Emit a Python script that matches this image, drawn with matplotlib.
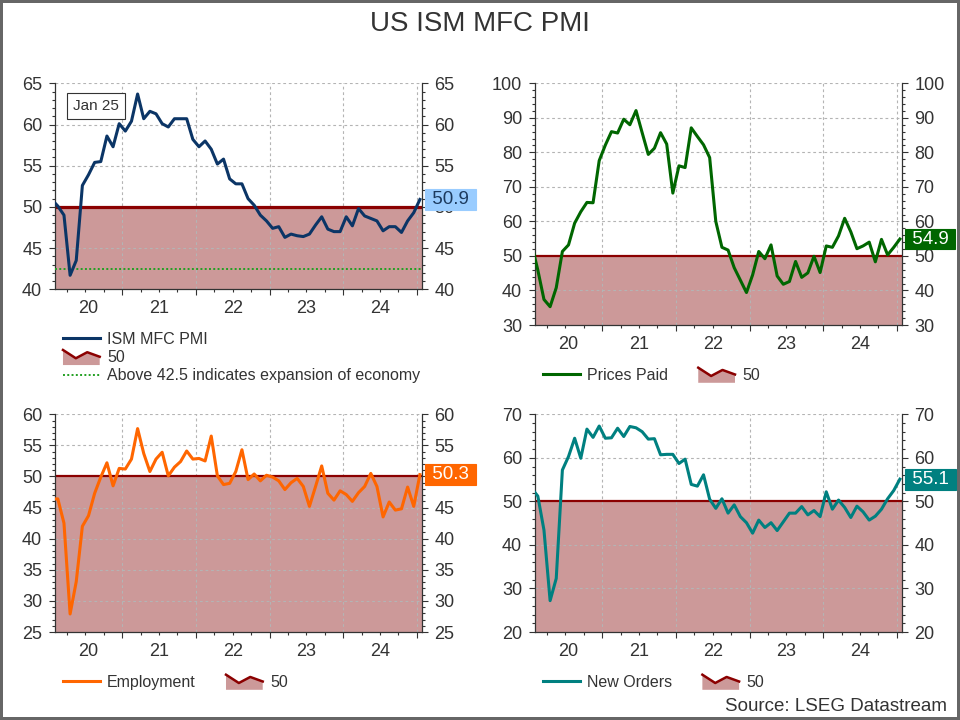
import numpy as np
import matplotlib
matplotlib.use("Agg")
import matplotlib.pyplot as plt
from matplotlib.ticker import MultipleLocator
from matplotlib.legend_handler import HandlerBase
from matplotlib.lines import Line2D
from matplotlib.patches import Polygon

plt.rcParams['font.family'] = ['Liberation Sans', 'DejaVu Sans']

# monthly, Jan 2020 .. Jan 2025
months = np.arange(61)
years = ['20', '21', '22', '23', '24']

pmi = [50.9, 50.1, 49.0, 41.7, 43.5, 52.6, 53.9, 55.4, 55.5, 58.6, 57.3, 60.1,
       59.2, 60.4, 63.7, 60.7, 61.6, 61.3, 60.1, 59.7, 60.7, 60.7, 60.7, 58.2,
       57.3, 58.0, 57.0, 55.2, 55.8, 53.4, 52.8, 52.8, 51.0, 50.2, 49.0, 48.3,
       47.4, 47.6, 46.3, 46.7, 46.5, 46.4, 46.7, 47.8, 48.8, 47.3, 47.0, 47.0,
       48.8, 47.7, 49.8, 48.9, 48.6, 48.3, 47.1, 47.6, 47.6, 46.9, 48.3, 49.3,
       50.9]
prices_paid = [53.3, 45.9, 37.4, 35.3, 40.8, 51.3, 53.2, 59.5, 62.8, 65.5, 65.4, 77.6,
               82.1, 86.0, 85.6, 89.6, 88.0, 92.1, 85.7, 79.4, 81.2, 85.7, 82.4, 68.2,
               76.1, 75.6, 87.1, 84.6, 82.2, 78.5, 60.0, 52.5, 51.7, 46.6, 43.0, 39.4,
               44.5, 51.3, 49.2, 53.2, 44.2, 41.8, 42.6, 48.4, 43.8, 45.1, 49.9, 45.2,
               52.9, 52.5, 55.8, 60.9, 57.0, 52.1, 52.9, 54.0, 48.3, 54.8, 50.3, 52.5,
               54.9]
employment = [46.4, 46.4, 42.5, 27.9, 33.1, 42.0, 43.7, 47.3, 49.9, 52.2, 48.5, 51.3,
              51.2, 52.8, 57.7, 53.7, 50.8, 52.8, 53.9, 50.1, 51.5, 52.4, 54.1, 52.8,
              52.9, 52.5, 56.5, 50.1, 48.7, 48.9, 50.8, 54.3, 49.5, 50.4, 49.3, 50.2,
              49.9, 49.3, 47.9, 49.0, 49.7, 48.4, 45.2, 48.4, 51.7, 47.3, 46.2, 47.7,
              47.1, 46.0, 47.4, 48.4, 50.5, 48.4, 43.5, 45.9, 44.6, 44.8, 48.3, 45.2,
              50.3]
new_orders = [53.0, 51.2, 43.4, 27.2, 32.3, 57.2, 60.3, 64.5, 59.9, 66.6, 64.7, 67.3,
              64.5, 64.6, 66.8, 64.9, 67.2, 66.9, 66.0, 64.3, 64.4, 60.7, 60.8, 60.8,
              58.7, 59.7, 53.9, 53.5, 56.1, 50.5, 48.4, 50.6, 47.3, 49.2, 46.5, 45.1,
              42.7, 45.7, 44.0, 45.1, 43.3, 45.3, 47.3, 47.3, 48.8, 46.9, 47.9, 46.5,
              52.2, 48.2, 50.3, 48.6, 46.3, 48.9, 47.6, 45.7, 46.6, 48.2, 50.6, 52.5,
              55.1]

threshold = 50
expansion = 42.5

FILL = '#cc9999'
RED = '#8b0000'
TXT = '#333333'


class ThresholdKey:
    pass


class ThresholdIcon(HandlerBase):
    def create_artists(self, legend, orig_handle, xdescent, ydescent,
                       width, height, fontsize, trans):
        x0, y0 = -xdescent, -ydescent - 0.25 * height
        h = height * 1.35
        zx = x0 + width * np.array([0, 0.35, 0.66, 1.0])
        zy = y0 + h * np.array([1.0, 0.45, 0.85, 0.55])
        pts = list(zip(zx, zy)) + [(x0 + width, y0), (x0, y0)]
        poly = Polygon(pts, closed=True, fc=FILL, ec='none', transform=trans)
        line = Line2D(zx, zy, color=RED, lw=1.8, transform=trans)
        return [poly, line]


fig = plt.figure(figsize=(9.6, 7.2), dpi=100)
fig.patch.set_edgecolor('#666666')
fig.patch.set_linewidth(3)

fig.text(0.5, 0.966, 'US ISM MFC PMI', ha='center', va='center', fontsize=20, color=TXT)
fig.text(0.986, 0.0194, 'Source: LSEG Datastream', ha='right', va='center',
         fontsize=13.5, color=TXT)

xlo, xhi = 0.54, 60.3
bounds = np.arange(11.5, 60, 12)
quarters = [q for q in np.arange(2.5, 60, 3) if q not in bounds]
label_pos = [(max(xlo, b - 12) + b) / 2 for b in bounds]


def panel(rect, values, color, ylim, major, minor, box_fc, box_tc, lw50):
    ax = fig.add_axes(rect)
    ax.set_xlim(xlo, xhi)
    ax.set_ylim(*ylim)
    ax.axhspan(ylim[0], threshold, color=FILL, lw=0, zorder=0.5)
    ax.axhline(threshold, color=RED, lw=lw50, zorder=2.5)
    ax.plot(months, values, color=color, lw=2.2, zorder=3)

    ax.set_yticks(np.arange(ylim[0], ylim[1] + 0.1, major))
    ax.yaxis.set_minor_locator(MultipleLocator(minor))
    ax.tick_params(axis='y', which='both', direction='out', left=True, right=True,
                   labelleft=True, labelright=True, colors=TXT, labelsize=13, width=0.8)
    ax.tick_params(axis='y', which='major', length=4.2, pad=5)
    ax.tick_params(axis='y', which='minor', length=2.3)

    ax.set_xticks(bounds)
    ax.set_xticks(quarters, minor=True)
    ax.tick_params(axis='x', which='both', direction='out', labelbottom=False,
                   colors=TXT, width=0.8)
    ax.tick_params(axis='x', which='major', length=4.2)
    ax.tick_params(axis='x', which='minor', length=2.3)

    sec = ax.secondary_xaxis('bottom')
    sec.set_xticks(label_pos, years)
    sec.tick_params(length=0, pad=8, labelsize=13, colors=TXT)
    sec.spines['bottom'].set_visible(False)

    ax.grid(True, which='major', color='#b4b4b4', linestyle=(0, (2.5, 2.5)), lw=0.8)
    ax.spines['top'].set_visible(False)
    for s in ['left', 'right', 'bottom']:
        ax.spines[s].set_color(TXT)
        ax.spines[s].set_linewidth(0.9)

    last = values[-1]
    ax.annotate(' %.1f ' % last, xy=(1, last), xycoords=('axes fraction', 'data'),
                xytext=(3.5, 0), textcoords='offset points', ha='left', va='center',
                fontsize=13.5, color=box_tc, annotation_clip=False, zorder=5,
                bbox=dict(boxstyle='square,pad=0.1', fc=box_fc, ec=box_fc, lw=0.8))
    return ax


ax1 = panel([0.0573, 0.5982, 0.382, 0.2861], pmi, '#0b3566', (40, 65), 5, 1,
            '#99ccff', '#1c3a5e', 2.3)
ax1.axhline(expansion, color='#22a022', ls=(0, (1, 1.2)), lw=1.4, zorder=2.6)
ax1.text(0.112, 0.89, 'Jan 25', transform=ax1.transAxes, ha='center', va='center',
         fontsize=11, color=TXT,
         bbox=dict(boxstyle='square,pad=0.4', fc='white', ec='#333333', lw=0.8))

ax2 = panel([0.5573, 0.5486, 0.382, 0.3357], prices_paid, '#006600', (30, 100), 10, 2,
            '#006600', 'white', 1.6)
ax3 = panel([0.0573, 0.1222, 0.382, 0.3024], employment, '#ff6600', (25, 60), 5, 1,
            '#ff6600', 'white', 1.6)
ax4 = panel([0.5573, 0.1222, 0.382, 0.3024], new_orders, '#008080', (20, 70), 10, 2,
            '#008080', 'white', 1.6)

leg_kw = dict(loc='upper left', frameon=False, fontsize=11.5, borderpad=0,
              borderaxespad=0, handlelength=2.3, handletextpad=0.45,
              columnspacing=1.9, labelcolor=TXT,
              handler_map={ThresholdKey: ThresholdIcon()})

fig.legend([Line2D([], [], color='#0b3566', lw=2.2), ThresholdKey(),
            Line2D([], [], color='#22a022', ls=(0, (1, 1.2)), lw=1.4)],
           ['ISM MFC PMI', '50', 'Above 42.5 indicates expansion of economy'],
           bbox_to_anchor=(0.0656, 0.5388), ncol=1, labelspacing=0.2, **leg_kw)
fig.legend([Line2D([], [], color='#006600', lw=2.2), ThresholdKey()],
           ['Prices Paid', '50'], bbox_to_anchor=(0.5656, 0.4889), ncol=2, **leg_kw)
fig.legend([Line2D([], [], color='#ff6600', lw=2.2), ThresholdKey()],
           ['Employment', '50'], bbox_to_anchor=(0.0656, 0.0625), ncol=2, **leg_kw)
fig.legend([Line2D([], [], color='#008080', lw=2.2), ThresholdKey()],
           ['New Orders', '50'], bbox_to_anchor=(0.5656, 0.0625), ncol=2, **leg_kw)

fig.savefig('out.png', dpi=100)
